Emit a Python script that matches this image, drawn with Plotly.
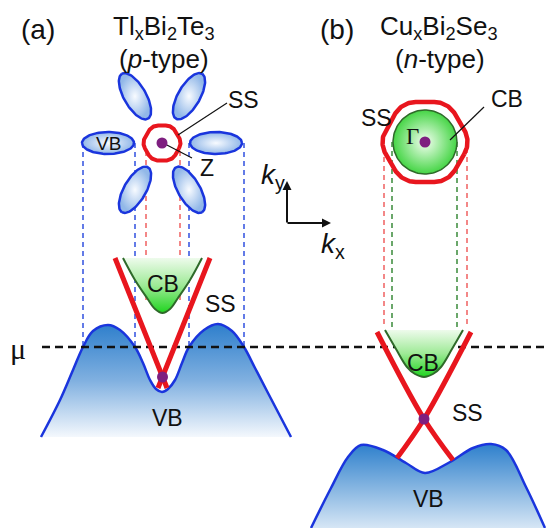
import numpy as np
import plotly.graph_objects as go

W, H = 546, 528

# ---------------- panel (a): Tl_xBi2Te3, p-type ----------------
# valence band E(k) profile (screen units, y grows downward)
vb_a_k = [41, 60, 73, 83, 93, 108, 120, 135, 143, 150, 156, 162, 168, 175, 182, 189, 204, 218, 232, 244, 255, 268, 291]
vb_a_E = [437, 400, 370, 347, 331, 325, 330, 347, 363, 380, 389, 392, 389, 380, 363, 347, 330, 324, 331, 347, 368, 393, 437]
# conduction band pocket
cb_a_k = [123, 135, 147, 155, 162.5, 170, 178, 190, 202]
cb_a_E = [258, 280, 298, 309, 313, 309, 298, 280, 258]
# surface-state Dirac cone branches
ss_a_left_k, ss_a_left_E = [115, 167], [258, 388]
ss_a_right_k, ss_a_right_E = [210, 158], [258, 388]
dirac_a = (162.5, 377)
# Fermi-surface sketch: Z point, six VB pockets, SS contour
z_point = (162, 143)
pocket_angles = [0, 60, 120, 180, 240, 300]
pocket_dist, pocket_a, pocket_b = 54, 26, 11
ss_a_contour = dict(R=7.5, rc=11)
# projection lines from Fermi surface down to mu
proj_a_blue = [83, 135, 189, 244]
proj_a_red = [146, 180]

# ---------------- panel (b): Cu_xBi2Se3, n-type ----------------
vb_b_k = [311, 331, 348, 361, 383, 406, 425, 450, 473, 491, 506, 526, 545]
vb_b_E = [528, 488, 457, 445, 450, 463, 473, 462, 448, 444, 450, 487, 528]
cb_b_k = [385, 396, 407, 415, 424, 433, 441, 452, 463]
cb_b_E = [330, 349, 367, 374, 377, 374, 367, 349, 330]
ss_b_left_k, ss_b_left_E = [377, 424, 453], [332, 419, 460]
ss_b_right_k, ss_b_right_E = [471, 424, 397], [332, 419, 458]
dirac_b = (424, 419)
gamma_point = (425, 142)
cb_b_radius = 32
ss_b_contour = dict(R=18.7, rc=23.8)
proj_b_red = [384, 467]
proj_b_green = [392, 457]

mu_level = 347

BLUE = "#1a35dd"
RED = "#e8161e"
DGREEN = "#2f6a2a"
PURPLE = "#7e1f80"
FONT = "Liberation Sans, Arial, sans-serif"
SERIF = "Liberation Serif, Times New Roman, serif"

fig = go.Figure()


def add_line(x, y, color, width, dash=None, shape="linear"):
    fig.add_trace(go.Scatter(x=x, y=y, mode="lines", hoverinfo="skip",
                             line=dict(color=color, width=width, dash=dash, shape=shape)))


def add_fill(x, y, gradient, shape="linear"):
    fig.add_trace(go.Scatter(x=x, y=y, mode="lines", fill="toself", hoverinfo="skip",
                             line=dict(width=0, color="rgba(0,0,0,0)", shape=shape),
                             fillgradient=gradient))


def ellipse(cx, cy, a, b, ang_deg, n=120):
    t = np.linspace(0, 2 * np.pi, n)
    ang = np.radians(ang_deg)
    x = cx + a * np.cos(t) * np.cos(ang) - b * np.sin(t) * np.sin(ang)
    y = cy - (a * np.cos(t) * np.sin(ang) + b * np.sin(t) * np.cos(ang))
    return x, y


def rounded_hex(cx, cy, R, rc, n=30):
    xs, ys = [], []
    for i in range(6):
        phi = np.radians(60 * i)
        t = np.linspace(phi - np.pi / 6, phi + np.pi / 6, n)
        xs.extend(cx + R * np.cos(phi) + rc * np.cos(t))
        ys.extend(cy - (R * np.sin(phi) + rc * np.sin(t)))
    xs.append(xs[0])
    ys.append(ys[0])
    return xs, ys


# projection lines
for xv in proj_a_blue:
    add_line([xv, xv], [z_point[1], mu_level], "#3050e0", 1.5, dash="5px,4px")
for xv in proj_a_red:
    add_line([xv, xv], [z_point[1] + 8, 300], "#f06060", 1.5, dash="5px,4px")
for xv in proj_b_red:
    add_line([xv, xv], [gamma_point[1] + 6, 328], "#f06060", 1.5, dash="5px,4px")
for xv in proj_b_green:
    add_line([xv, xv], [gamma_point[1], 327], "#3a8a3a", 1.5, dash="5px,4px")

# valence bands
add_fill(vb_a_k, vb_a_E, dict(type="vertical", start=324, stop=437,
                              colorscale=[[0, "#2e7fcc"], [0.5, "#80b0e0"], [1, "#f4f8fd"]]),
         shape="spline")
add_line(vb_a_k, vb_a_E, BLUE, 2.5, shape="spline")
add_fill(vb_b_k, vb_b_E, dict(type="vertical", start=444, stop=528,
                              colorscale=[[0, "#2e80cc"], [1, "#d6e6f5"]]),
         shape="spline")
add_line(vb_b_k, vb_b_E, BLUE, 2.5, shape="spline")

# chemical potential
add_line([42, W], [mu_level, mu_level], "#111111", 2.5, dash="8px,5px")

# conduction bands
for ck, cE in [(cb_a_k, cb_a_E), (cb_b_k, cb_b_E)]:
    add_fill(ck, cE, dict(type="vertical", start=cE[0], stop=max(cE),
                          colorscale=[[0, "#eefbec"], [0.5, "#9eea96"], [1, "#1fd41f"]]),
             shape="spline")
    add_line(ck, cE, DGREEN, 2, shape="spline")

# surface-state dispersions
add_line(ss_a_left_k, ss_a_left_E, RED, 5)
add_line(ss_a_right_k, ss_a_right_E, RED, 5)
add_line(ss_b_left_k, ss_b_left_E, RED, 5, shape="spline")
add_line(ss_b_right_k, ss_b_right_E, RED, 5, shape="spline")

# Fermi surface (a): VB pockets
for ang in pocket_angles:
    cx = z_point[0] + pocket_dist * np.cos(np.radians(ang))
    cy = z_point[1] - pocket_dist * np.sin(np.radians(ang))
    ex, ey = ellipse(cx, cy, pocket_a, pocket_b, ang)
    fig.add_trace(go.Scatter(x=ex, y=ey, mode="lines", fill="toself", hoverinfo="skip",
                             line=dict(color=BLUE, width=2.5),
                             fillgradient=dict(type="radial",
                                               colorscale=[[0, "#f8fbff"], [1, "#92b8e8"]])))
# SS contours
hx, hy = rounded_hex(z_point[0], z_point[1], **ss_a_contour)
add_line(hx, hy, RED, 4)

# Fermi surface (b): CB sphere and SS contour
ex, ey = ellipse(gamma_point[0], gamma_point[1], cb_b_radius, cb_b_radius, 0)
fig.add_trace(go.Scatter(x=ex, y=ey, mode="lines", fill="toself", hoverinfo="skip",
                         line=dict(color=DGREEN, width=1.5),
                         fillgradient=dict(type="radial",
                                           colorscale=[[0, "#f2fff0"], [1, "#45d545"]])))
hx, hy = rounded_hex(gamma_point[0], gamma_point[1], **ss_b_contour)
add_line(hx, hy, RED, 4.5)

# leader lines
add_line([178, 227], [135, 103], "#111111", 1.2)
add_line([163, 192], [143, 158], "#111111", 1.2)
add_line([450, 484], [140, 107], "#111111", 1.2)

# high-symmetry / Dirac points
px = [z_point[0], dirac_a[0], gamma_point[0], dirac_b[0]]
py = [z_point[1], dirac_a[1], gamma_point[1], dirac_b[1]]
fig.add_trace(go.Scatter(x=px, y=py, mode="markers", hoverinfo="skip",
                         marker=dict(size=11, color=PURPLE, line=dict(width=0))))

# text labels
labels = [
    ("(a)", 38, 29, 28, FONT),
    ("Tl<sub>x</sub>Bi<sub>2</sub>Te<sub>3</sub>", 164, 27, 26, FONT),
    ("(<i>p</i>-type)", 164, 59, 26, FONT),
    ("(b)", 337, 29, 28, FONT),
    ("Cu<sub>x</sub>Bi<sub>2</sub>Se<sub>3</sub>", 439, 27, 26, FONT),
    ("(<i>n</i>-type)", 440, 59, 26, FONT),
    ("SS", 243, 100, 23, FONT),
    ("Z", 207, 168, 23, FONT),
    ("VB", 108, 143, 19, FONT),
    ("CB", 163, 284, 23, FONT),
    ("SS", 220, 304, 23, FONT),
    ("VB", 167, 418, 23, FONT),
    ("μ", 18, 348, 30, SERIF),
    ("SS", 376, 118, 23, FONT),
    ("CB", 507, 99, 23, FONT),
    ("Γ", 412, 136, 23, SERIF),
    ("CB", 423, 363, 23, FONT),
    ("SS", 467, 413, 23, FONT),
    ("VB", 428, 499, 23, FONT),
    ("<i>k</i><sub>y</sub>", 273, 176, 28, FONT),
    ("<i>k</i><sub>x</sub>", 333, 245, 28, FONT),
]
for txt, x, y, size, fam in labels:
    fig.add_annotation(x=x, y=y, text=txt, showarrow=False, xanchor="center", yanchor="middle",
                       font=dict(family=fam, size=size, color="#111111"))

# k-space axes
fig.add_annotation(x=287, y=181, ax=287, ay=224, axref="x", ayref="y", xref="x", yref="y",
                   text="", showarrow=True, arrowhead=2, arrowsize=0.9, arrowwidth=2,
                   arrowcolor="#111111")
fig.add_annotation(x=331, y=223, ax=286, ay=223, axref="x", ayref="y", xref="x", yref="y",
                   text="", showarrow=True, arrowhead=2, arrowsize=0.9, arrowwidth=2,
                   arrowcolor="#111111")

fig.update_layout(
    width=W, height=H, margin=dict(l=0, r=0, t=0, b=0),
    paper_bgcolor="white", plot_bgcolor="white", showlegend=False,
    xaxis=dict(range=[0, W], visible=False, fixedrange=True),
    yaxis=dict(range=[H, 0], visible=False, fixedrange=True),
)

fig.write_html("out.html")
